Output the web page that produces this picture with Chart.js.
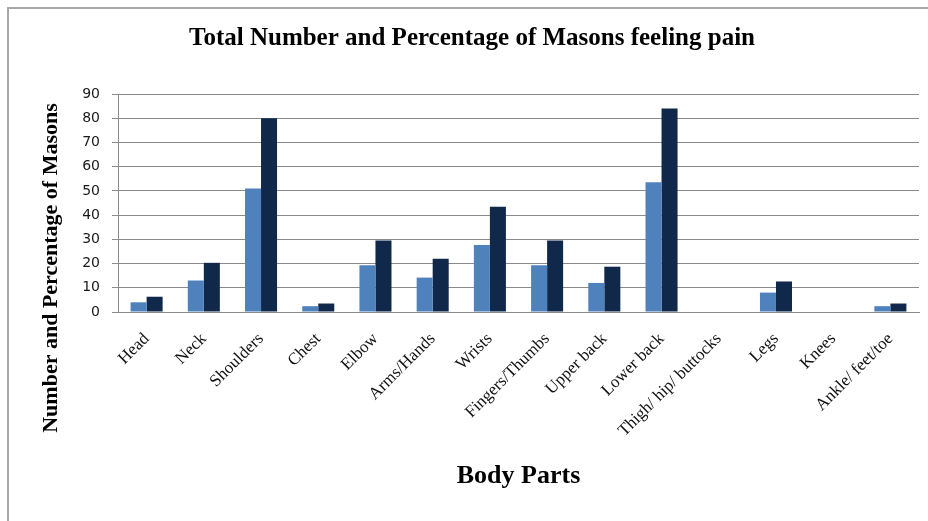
<!DOCTYPE html>
<html>
<head>
<meta charset="utf-8">
<title>Masons feeling pain</title>
<script src="https://cdn.jsdelivr.net/npm/chart.js@4/dist/chart.umd.min.js"></script>
<style>
    body { margin: 0; background: #fff; }
    #frame {
        position: absolute; left: 7px; top: 7px; width: 921px; height: 514px;
        border-left: 2px solid #a8a8a8; border-top: 2px solid #a8a8a8;
    }
    #painChart { position: absolute; left: 0; top: 0; }
</style>
</head>
<body>
<div id="frame"></div>
<canvas id="painChart" width="928" height="521"></canvas>
<script>
// values
const bodyParts = ["Head", "Neck", "Shoulders", "Chest", "Elbow", "Arms/Hands", "Wrists",
    "Fingers/Thumbs", "Upper back", "Lower back", "Thigh/ hip/ buttocks", "Legs", "Knees", "Ankle/ feet/toe"];
const numberOfMasons = [4, 13, 51, 2.4, 19.3, 14.2, 27.7, 19.3, 12, 53.6, 0, 8, 0, 2.4];
const percentOfMasons = [6.3, 20.3, 80, 3.5, 29.5, 22, 43.5, 29.5, 18.7, 84, 0, 12.6, 0, 3.5];
const yTicks = [0, 10, 20, 30, 40, 50, 60, 70, 80, 90];

const mainTitle = "Total Number and Percentage of Masons feeling pain";
const yTitle = "Number and Percentage of Masons";
const xTitle = "Body Parts";

// draws the chart title and the y axis title where the original has them
const titlesPlugin = {
    id: "titles",
    afterDraw(chart) {
        const ctx = chart.ctx;
        ctx.save();
        ctx.fillStyle = "#000";
        ctx.textAlign = "center";
        ctx.textBaseline = "alphabetic";
        ctx.font = "bold 25px 'Liberation Serif'";
        ctx.fillText(mainTitle, 472, 45);

        ctx.translate(57, 268);
        ctx.rotate(-Math.PI / 2);
        ctx.font = "bold 22px 'Liberation Serif'";
        ctx.fillText(yTitle, 0, 0);
        ctx.restore();
    }
};

new Chart(document.getElementById("painChart"), {
    type: "bar",
    data: {
        labels: bodyParts,
        datasets: [{
            label: "Number",
            data: numberOfMasons,
            backgroundColor: "#4f81bd",
            categoryPercentage: 0.56,
            barPercentage: 1
        }, {
            label: "Percentage",
            data: percentOfMasons,
            backgroundColor: "#10284a",
            categoryPercentage: 0.56,
            barPercentage: 1
        }]
    },
    options: {
        responsive: false,
        animation: false,
        layout: { padding: { top: 94, right: 9, bottom: 0, left: 0 } },
        plugins: {
            legend: { display: false },
            tooltip: { enabled: false }
        },
        scales: {
            x: {
                grid: { display: false },
                border: { display: true, color: "#8a8a8a", width: 1 },
                ticks: {
                    minRotation: 45,
                    maxRotation: 45,
                    padding: 9,
                    color: "#111",
                    font: { family: "'Liberation Serif'", size: 17 }
                },
                title: {
                    display: true,
                    text: xTitle,
                    color: "#000",
                    font: { family: "'Liberation Serif'", size: 26, weight: "bold" },
                    padding: { top: 0, bottom: 29 }
                },
                afterFit(scale) { scale.height = 209; }
            },
            y: {
                min: 0,
                max: 90,
                afterBuildTicks(scale) { scale.ticks = yTicks.map(v => ({ value: v })); },
                grid: { color: "#8a8a8a", lineWidth: 1, tickLength: 6 },
                border: { display: true, color: "#8a8a8a", width: 1 },
                ticks: {
                    padding: 12,
                    color: "#1a1a1a",
                    font: { family: "'DejaVu Sans'", size: 14 }
                },
                afterFit(scale) { scale.width = 118; }
            }
        }
    },
    plugins: [titlesPlugin]
});
</script>
</body>
</html>
